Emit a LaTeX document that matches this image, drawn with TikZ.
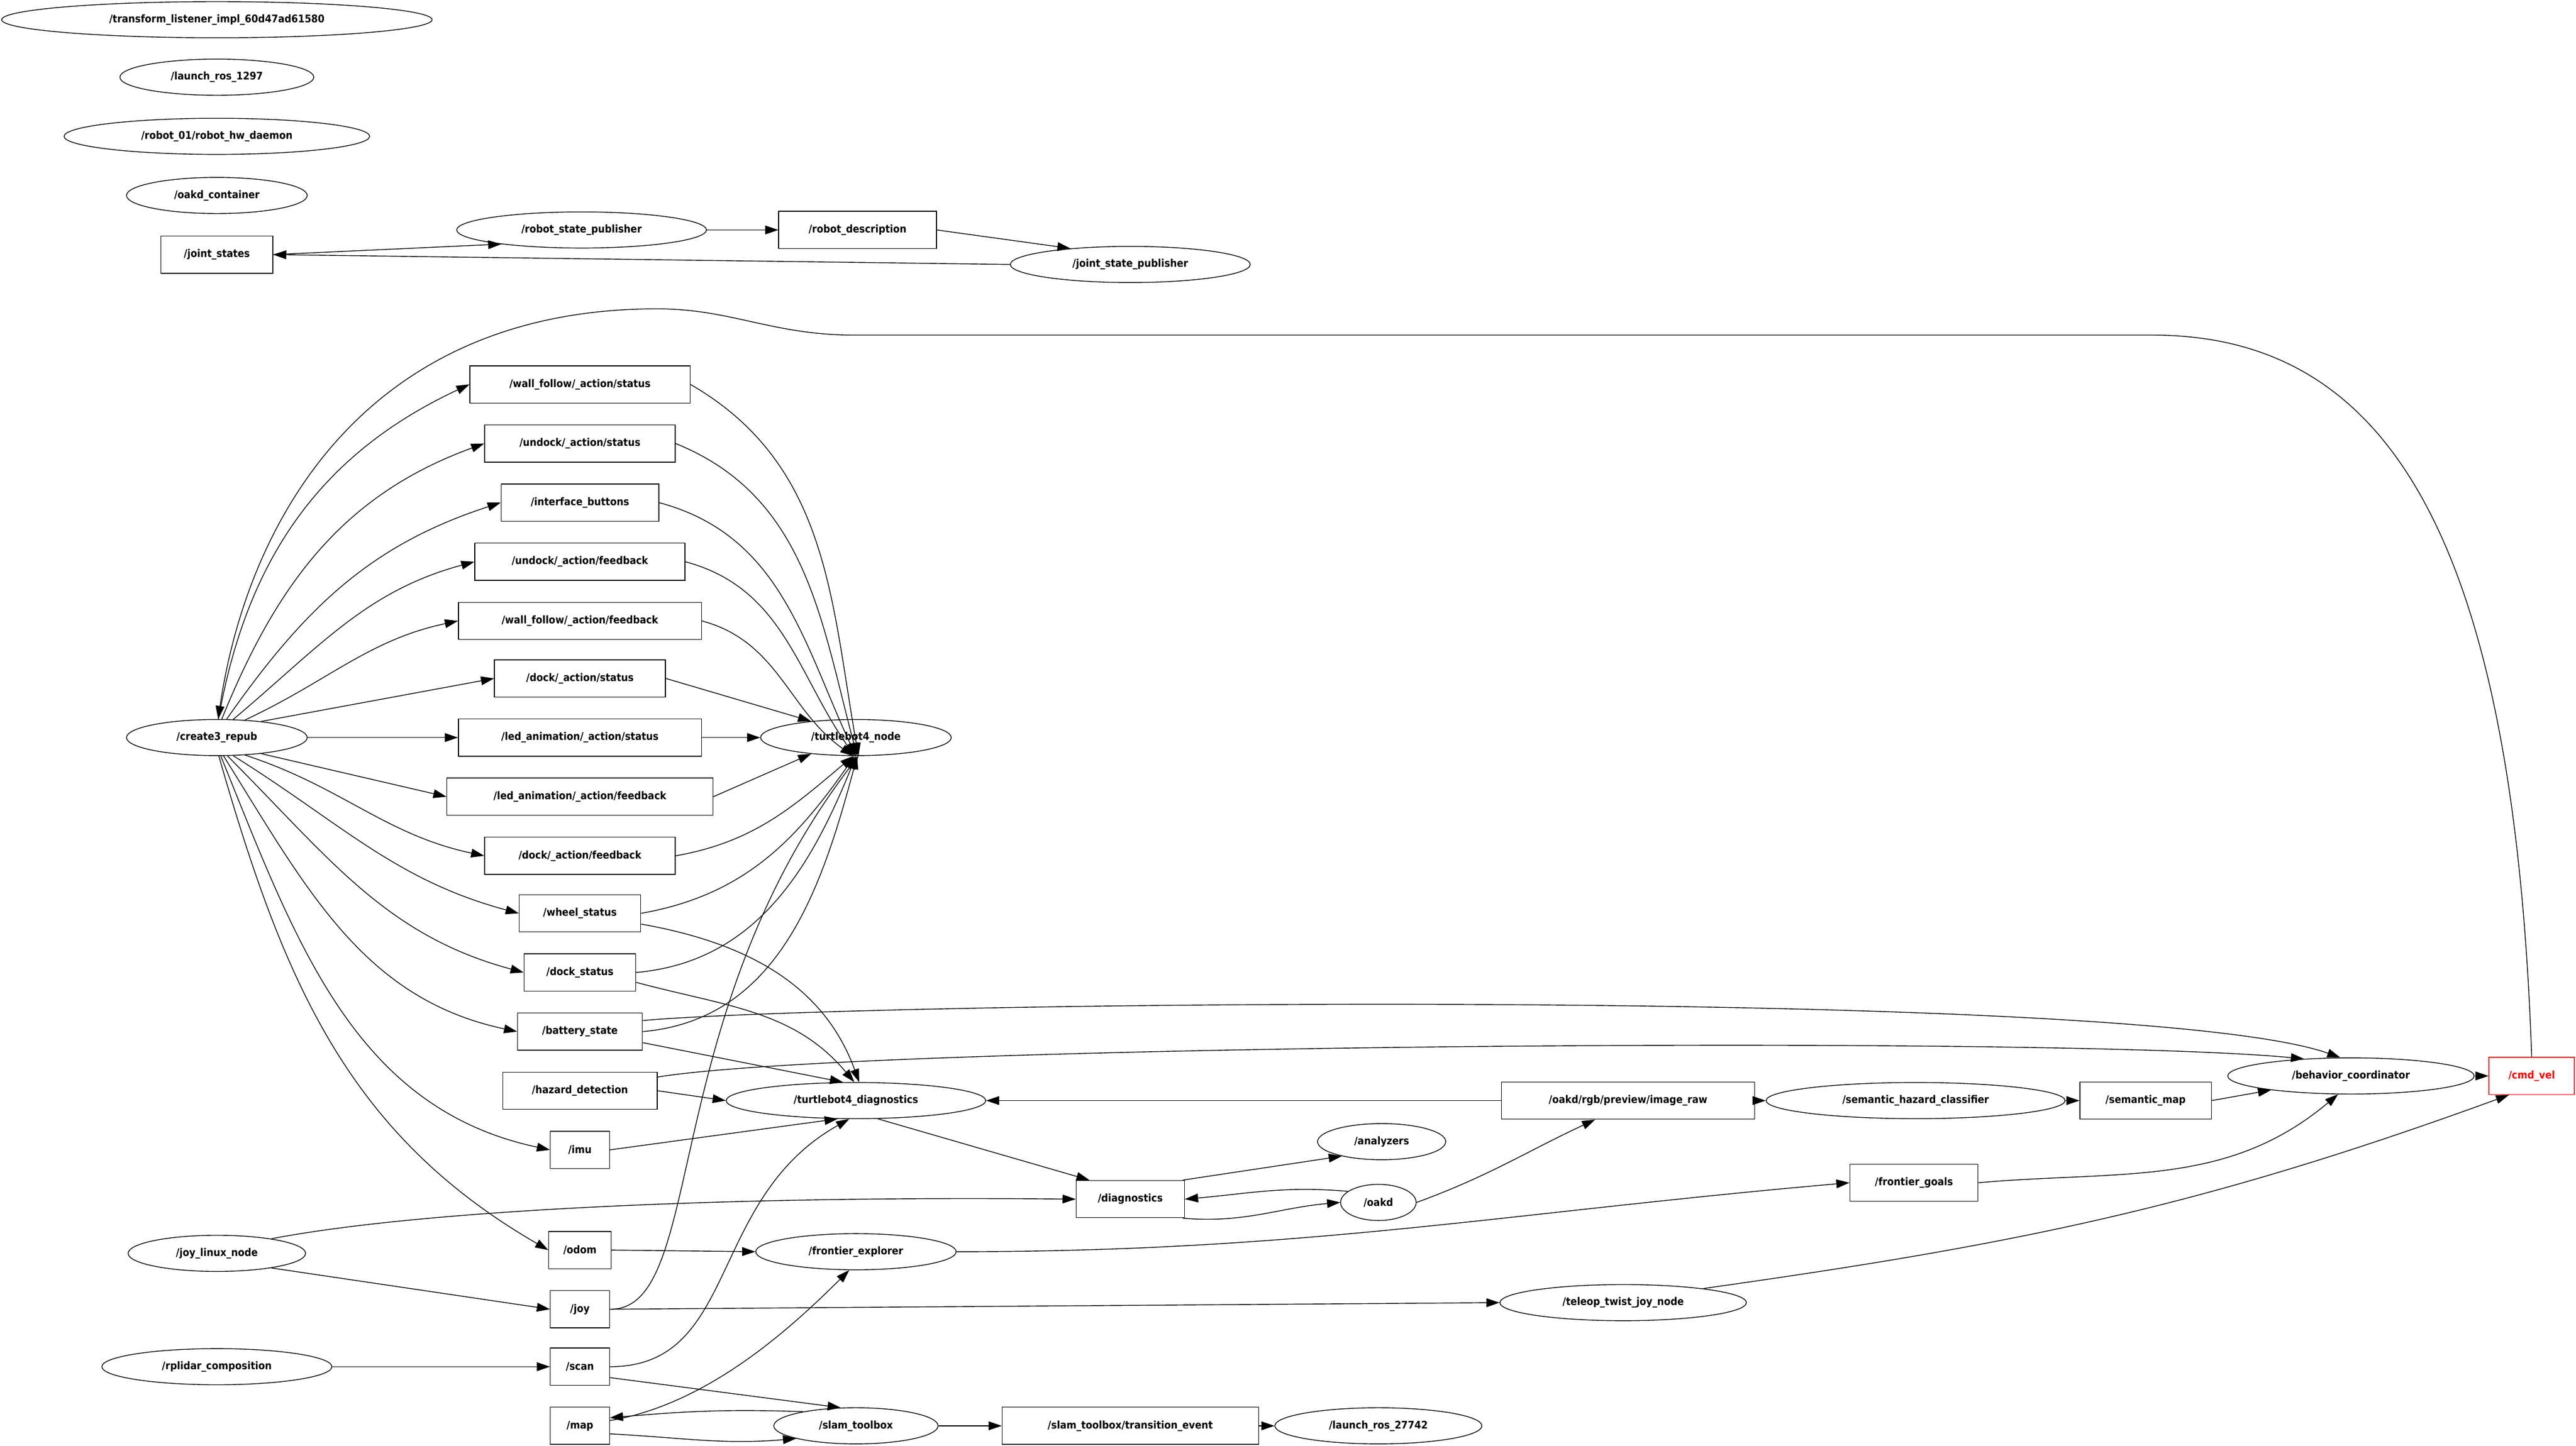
\documentclass[tikz,border=0pt]{standalone}
\usepackage{fontspec}
\setmainfont{DejaVu Sans Condensed}
\usetikzlibrary{shapes.geometric,arrows.meta}
\begin{document}
\begin{tikzpicture}[
        x=0.03cm, y=-0.03cm,
        font=\fontsize{5.5}{6.5}\selectfont\bfseries,
        % ROS nodes: ellipses
        rosnode/.style={ellipse, draw=black, inner sep=0pt, minimum height=0.66cm, minimum width=#1*0.03cm},
        % topics: boxes
        topic/.style={rectangle, draw=black, inner sep=0pt, minimum height=0.68cm, minimum width=#1*0.03cm},
        % connectors
        pub/.style={draw, -{Triangle[length=0.24cm,width=0.16cm]}}
    ]
    \useasboundingbox (0,0) rectangle (1568,880);

    % --- lone nodes and robot description ---
    \node[rosnode=262] (tli) at (132,12) {/transform\_listener\_impl\_60d47ad61580};
    \node[rosnode=118] (lr1) at (132,47) {/launch\_ros\_1297};
    \node[rosnode=186] (hwd) at (132,83) {/robot\_01/robot\_hw\_daemon};
    \node[rosnode=110] (oakc) at (132,119) {/oakd\_container};
    \node[topic=68] (js) at (132,155) {/joint\_states};
    \node[rosnode=152] (rsp) at (354,140) {/robot\_state\_publisher};
    \node[topic=96] (rd) at (522,140) {/robot\_description};
    \node[rosnode=146] (jsp) at (688,161) {/joint\_state\_publisher};

    % --- create3 topics ---
    \node[rosnode=110] (c3) at (132,449) {/create3\_repub};
    \node[topic=134] (wfs) at (353,234) {/wall\_follow/\_action/status};
    \node[topic=116] (uds) at (353,270) {/undock/\_action/status};
    \node[topic=96] (ib) at (353,306) {/interface\_buttons};
    \node[topic=128] (udf) at (353,342) {/undock/\_action/feedback};
    \node[topic=148] (wff) at (353,378) {/wall\_follow/\_action/feedback};
    \node[topic=104] (dks) at (353,413) {/dock/\_action/status};
    \node[topic=148] (las) at (353,449) {/led\_animation/\_action/status};
    \node[topic=162] (laf) at (353,485) {/led\_animation/\_action/feedback};
    \node[topic=116] (dkf) at (353,521) {/dock/\_action/feedback};
    \node[topic=74] (whs) at (353,556) {/wheel\_status};
    \node[topic=68] (dst) at (353,592) {/dock\_status};
    \node[topic=76] (bat) at (353,628) {/battery\_state};
    \node[topic=94] (hz) at (353,664) {/hazard\_detection};
    \node[topic=36] (imu) at (353,700) {/imu};
    \node[topic=38] (odom) at (353,761) {/odom};
    \node[topic=36] (joy) at (353,797) {/joy};
    \node[topic=36] (scan) at (353,832) {/scan};
    \node[topic=36] (map) at (353,868) {/map};
    \node[rosnode=116] (tn) at (521,449) {/turtlebot4\_node};
    \node[rosnode=158] (td) at (521,670) {/turtlebot4\_diagnostics};

    % --- rest of the graph ---
    \node[topic=66] (diag) at (688,730) {/diagnostics};
    \node[rosnode=78] (anl) at (841,695) {/analyzers};
    \node[rosnode=46] (oakd) at (839,732) {/oakd};
    \node[topic=154] (img) at (991,670) {/oakd/rgb/preview/image\_raw};
    \node[rosnode=182] (shc) at (1166,670) {/semantic\_hazard\_classifier};
    \node[topic=80] (sm) at (1306,670) {/semantic\_map};
    \node[rosnode=150] (bc) at (1431,655) {/behavior\_coordinator};
    \node[topic=52, draw=red, text=red] (cmd) at (1541,655) {/cmd\_vel};
    \node[topic=78] (fg) at (1165,720) {/frontier\_goals};
    \node[rosnode=108] (jln) at (132,763) {/joy\_linux\_node};
    \node[rosnode=122] (fe) at (521,762) {/frontier\_explorer};
    \node[rosnode=150] (tel) at (988,793) {/teleop\_twist\_joy\_node};
    \node[rosnode=140] (rpl) at (132,832) {/rplidar\_composition};
    \node[rosnode=100] (slam) at (521,868) {/slam\_toolbox};
    \node[topic=156] (ste) at (688,868) {/slam\_toolbox/transition\_event};
    \node[rosnode=126] (lr2) at (839,868) {/launch\_ros\_27742};

    % robot description loop
    \draw[pub] (js.east) -- (rsp.190);
    \draw[pub] (rsp) -- (rd);
    \draw[pub] (rd.east) -- (jsp.165);
    \draw[pub] (jsp.west) -- (js.east);

    % create3_repub -> topics
    \draw[pub] (c3.85) to[out=80,in=205] (wfs.west);
    \draw[pub] (c3.75) to[out=68,in=200] (uds.west);
    \draw[pub] (c3.62) to[out=55,in=198] (ib.west);
    \draw[pub] (c3.48) to[out=40,in=195] (udf.west);
    \draw[pub] (c3.32) to[out=25,in=192] (wff.west);
    \draw[pub] (c3.20) -- (dks.west);
    \draw[pub] (c3.east) -- (las.west);
    \draw[pub] (c3.-20) -- (laf.west);
    \draw[pub] (c3.-32) to[out=-18,in=168] (dkf.west);
    \draw[pub] (c3.-48) to[out=-32,in=165] (whs.west);
    \draw[pub] (c3.-60) to[out=-45,in=165] (dst.west);
    \draw[pub] (c3.-70) to[out=-58,in=168] (bat.west);
    \draw[pub] (c3.-78) to[out=-68,in=168] (imu.west);
    \draw[pub] (c3.-84) to[out=-74,in=150] (odom.west);
    % cmd_vel back over the top
    \draw[pub] (cmd.north) .. controls (1530,320) and (1450,204) .. (1310,204)
        -- (520,204) .. controls (470,204) and (445,188) .. (400,188)
        .. controls (220,188) and (150,320) .. (c3.86);

    % topics -> turtlebot4_node
    \draw[pub] (wfs.east) to[out=-30,in=100] (tn.-82);
    \draw[pub] (uds.east) to[out=-22,in=105] (tn.-86);
    \draw[pub] (ib.east) to[out=-15,in=115] (tn.-90);
    \draw[pub] (udf.east) to[out=-15,in=125] (tn.-94);
    \draw[pub] (wff.east) to[out=-15,in=145] (tn.-98);
    \draw[pub] (dks.east) -- (tn.160);
    \draw[pub] (las.east) -- (tn.west);
    \draw[pub] (laf.east) -- (tn.200);
    \draw[pub] (dkf.east) to[out=10,in=-140] (tn.262);
    \draw[pub] (whs.east) to[out=10,in=-125] (tn.266);
    \draw[pub] (dst.east) to[out=5,in=-112] (tn.270);
    \draw[pub] (bat.east) to[out=5,in=-105] (tn.274);
    \draw[pub] (joy.east) .. controls (430,798) and (400,620) .. (tn.278);

    % topics -> turtlebot4_diagnostics
    \draw[pub] (whs.-10) to[out=-10,in=110] (td.80);
    \draw[pub] (dst.-10) to[out=-15,in=130] (td.95);
    \draw[pub] (bat.-10) -- (td.125);
    \draw[pub] (hz.east) -- (td.west);
    \draw[pub] (imu.east) -- (td.225);
    \draw[pub] (scan.east) .. controls (450,832) and (430,730) .. (td.250);
    \draw[pub] (img.west) -- (td.east);

    % -> behavior_coordinator
    \draw[pub] (bat.10) .. controls (520,610) and (1300,600) .. (bc.120);
    \draw[pub] (hz.10) .. controls (520,636) and (1250,630) .. (bc.160);
    \draw[pub] (sm.east) -- (bc.190);
    \draw[pub] (fg.east) to[out=5,in=-140] (bc.235);
    \draw[pub] (bc.east) -- (cmd.west);
    \draw[pub] (tel.10) to[out=8,in=-160] (cmd.220);

    % diagnostics and oakd
    \draw[pub] (td.-40) -- (diag.155);
    \draw[pub] (diag.20) -- (anl.200);
    \draw[pub] (diag.-20) to[out=-5,in=185] (oakd.west);
    \draw[pub] (oakd.160) to[out=175,in=5] (diag.east);
    \draw[pub] (oakd.east) to[out=20,in=-155] (img.210);
    \draw[pub] (img.east) -- (shc.west);
    \draw[pub] (shc.east) -- (sm.west);

    % joystick, lidar, slam
    \draw[pub] (jln.15) .. controls (260,736) and (450,728) .. (diag.west);
    \draw[pub] (jln.-15) -- (joy.west);
    \draw[pub] (joy.east) -- (tel.west);
    \draw[pub] (rpl.east) -- (scan.west);
    \draw[pub] (odom.east) -- (fe.west);
    \draw[pub] (fe.east) to[out=0,in=185] (fg.west);
    \draw[pub] (scan.-20) -- (slam.130);
    \draw[pub] (map.10) .. controls (430,855) and (480,810) .. (fe.250);
    \draw[pub] (slam.165) to[out=178,in=5] (map.15);
    \draw[pub] (map.-15) to[out=-3,in=185] (slam.192);
    \draw[pub] (slam.east) -- (ste.west);
    \draw[pub] (ste.east) -- (lr2.west);
\end{tikzpicture}
\end{document}
